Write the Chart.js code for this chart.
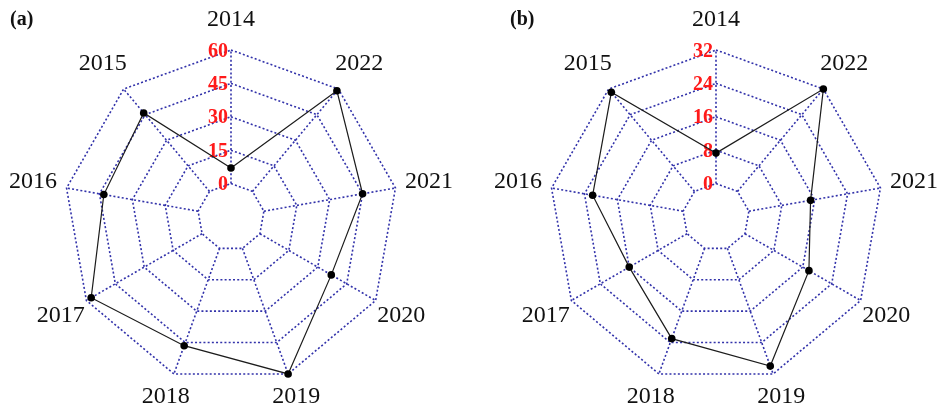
<!DOCTYPE html>
<html>
<head>
<meta charset="utf-8">
<script src="https://cdn.jsdelivr.net/npm/chart.js@4/dist/chart.umd.min.js"></script>
<style>
  html, body { margin: 0; padding: 0; background: #fff; }
  #wrap { position: relative; width: 937px; height: 407px; overflow: hidden; background: #fff; }
  canvas { position: absolute; top: 0; }
  #cvA { left: 0; }
  #cvB { left: 468px; }
  .tag { position: absolute; top: 7px; font: bold 20px "Liberation Serif", serif; color: #111; }
</style>
</head>
<body>
<div id="wrap">
  <canvas id="cvA" width="468" height="407"></canvas>
  <canvas id="cvB" width="469" height="407"></canvas>
  <div class="tag" style="left:10px">(a)</div>
  <div class="tag" style="left:510px">(b)</div>
</div>
<script>
// Years, clockwise from the top spoke
const years = ['2014', '2022', '2021', '2020', '2019', '2018', '2017', '2016', '2015'];

// Panel (a) values per year (same order as years)
const valuesA = [7, 59, 45, 37, 60, 46.5, 57.5, 43, 46];
// Panel (b) values per year (same order as years)
const valuesB = [7.3, 32, 15, 17.7, 30, 23, 16, 22, 31];

// Radial axis ranges: the inner hole is one step below zero
const scaleA = { min: -15, max: 60, step: 15 };
const scaleB = { min: -8, max: 32, step: 8 };

const GRID_BLUE = '#3232aa';
const TICK_RED = '#ff1a1a';
const DOTS = [2, 2.2];

// Spokes start at the zero ring; red tick values sit left of the top spoke;
// year labels are centred just outside the outer ring.
const radarDecor = {
  id: 'radarDecor',
  beforeDatasetsDraw(chart) {
    const s = chart.scales.r;
    const ctx = chart.ctx;
    const n = chart.data.labels.length;
    const inner = s.getDistanceFromCenterForValue(0);
    const outer = s.getDistanceFromCenterForValue(s.max);
    ctx.save();
    ctx.strokeStyle = GRID_BLUE;
    ctx.lineWidth = 1.6;
    ctx.setLineDash(DOTS);
    for (let i = 0; i < n; i++) {
      const a = s.getPointPosition(i, inner);
      const b = s.getPointPosition(i, outer);
      ctx.beginPath();
      ctx.moveTo(a.x, a.y);
      ctx.lineTo(b.x, b.y);
      ctx.stroke();
    }
    ctx.setLineDash([]);

    ctx.font = 'bold 20px "Liberation Serif", serif';
    ctx.fillStyle = TICK_RED;
    ctx.textAlign = 'right';
    ctx.textBaseline = 'middle';
    s.ticks.forEach(t => {
      if (t.value < 0) return;
      const p = s.getPointPosition(0, s.getDistanceFromCenterForValue(t.value));
      ctx.fillText(t.label, p.x - 3, p.y + 1.5);
    });

    // wider labels need a little more room on the sides, less at the bottom
    ctx.font = '24px "Liberation Serif", serif';
    ctx.fillStyle = '#111';
    ctx.textAlign = 'center';
    chart.data.labels.forEach((lab, i) => {
      const ang = (2 * Math.PI * i) / n;
      const gap = 30 + 4 * Math.abs(Math.sin(ang)) - 8 * Math.max(0, -Math.cos(ang));
      const p = s.getPointPosition(i, outer + gap);
      ctx.fillText(lab, p.x, p.y);
    });
    ctx.restore();
  }
};

function makeRadar(id, values, range, pad) {
  return new Chart(document.getElementById(id), {
    type: 'radar',
    data: {
      labels: years,
      datasets: [{
        data: values,
        borderColor: '#1c1c1c',
        borderWidth: 1.2,
        backgroundColor: 'rgba(0,0,0,0)',
        fill: false,
        pointRadius: 3.8,
        pointBorderWidth: 0,
        pointBackgroundColor: '#000',
        pointHoverRadius: 3.8,
        clip: false
      }]
    },
    options: {
      responsive: false,
      animation: false,
      devicePixelRatio: 1,
      layout: { padding: pad },
      plugins: { legend: { display: false }, tooltip: { enabled: false } },
      scales: {
        r: {
          min: range.min,
          max: range.max,
          ticks: { stepSize: range.step, display: false },
          pointLabels: { display: false },
          angleLines: { display: false },
          grid: { color: GRID_BLUE, lineWidth: 1.6 },
          border: { dash: DOTS }
        }
      }
    },
    plugins: [radarDecor]
  });
}

makeRadar('cvA', valuesA, scaleA, { left: 64, top: 50, right: 70, bottom: 23 });
makeRadar('cvB', valuesB, scaleB, { left: 81, top: 50, right: 54, bottom: 23 });
</script>
</body>
</html>
